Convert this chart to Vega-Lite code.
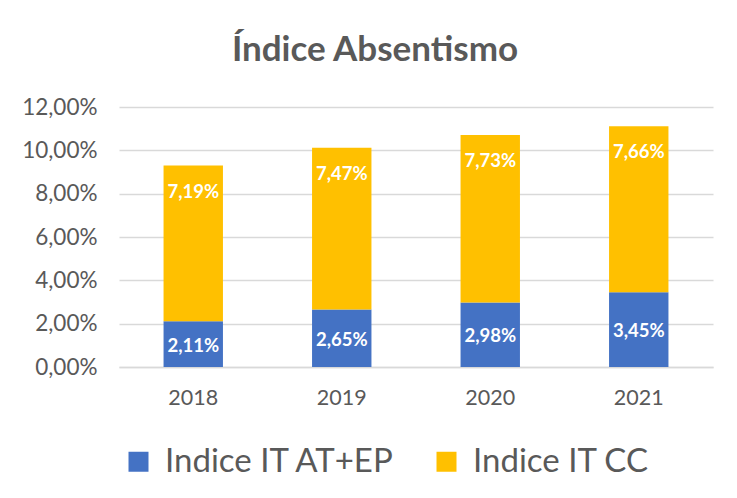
{
  "$schema": "https://vega.github.io/schema/vega-lite/v6.json",
  "width": 594,
  "height": 260,
  "autosize": {"type": "none"},
  "padding": {"left": 119, "top": 107, "right": 24, "bottom": 131},
  "config": {
    "font": "Lato",
    "locale": {"number": {"decimal": ",", "thousands": ".", "grouping": [3], "currency": ["", " €"]}},
    "view": {"stroke": null}
  },
  "title": {
    "text": "Índice Absentismo",
    "font": "Lato",
    "fontSize": 35,
    "fontWeight": "bold",
    "color": "#595959",
    "anchor": "middle",
    "frame": "group",
    "dx": -41,
    "offset": 28
  },
  "data": {
    "values": [
      {"year": "2018", "series": "Indice IT AT+EP", "value": 0.0211, "idx": 0},
      {"year": "2018", "series": "Indice IT CC", "value": 0.0719, "idx": 1},
      {"year": "2019", "series": "Indice IT AT+EP", "value": 0.0265, "idx": 0},
      {"year": "2019", "series": "Indice IT CC", "value": 0.0747, "idx": 1},
      {"year": "2020", "series": "Indice IT AT+EP", "value": 0.0298, "idx": 0},
      {"year": "2020", "series": "Indice IT CC", "value": 0.0773, "idx": 1},
      {"year": "2021", "series": "Indice IT AT+EP", "value": 0.0345, "idx": 0},
      {"year": "2021", "series": "Indice IT CC", "value": 0.0766, "idx": 1}
    ]
  },
  "resolve": {"scale": {"y": "independent"}},
  "layer": [
    {
      "mark": {"type": "bar"},
      "encoding": {
        "x": {
          "field": "year", "type": "nominal",
          "scale": {"paddingInner": 0.6, "paddingOuter": 0.3},
          "axis": {"title": null, "labelAngle": 0, "ticks": false, "domainColor": "#d9d9d9", "domainWidth": 1.5, "labelFontSize": 21.5, "labelColor": "#595959", "labelPadding": 20}
        },
        "y": {
          "field": "value", "type": "quantitative", "stack": "zero",
          "scale": {"domain": [0, 0.12]},
          "axis": {"title": null, "values": [0, 0.02, 0.04, 0.06, 0.08, 0.1, 0.12], "format": ".2%", "grid": true, "gridColor": "#d9d9d9", "gridWidth": 1.5, "domain": false, "ticks": false, "labelFontSize": 22.5, "labelColor": "#595959", "labelPadding": 22}
        },
        "color": {
          "field": "series", "type": "nominal",
          "scale": {"domain": ["Indice IT AT+EP", "Indice IT CC"], "range": ["#4472C4", "#FFC000"]},
          "legend": {"orient": "none", "legendX": 3, "legendY": 338, "direction": "horizontal", "title": null, "symbolType": "square", "symbolSize": 400, "symbolStrokeWidth": 0, "labelFontSize": 33, "labelLimit": 0, "labelColor": "#595959", "columnPadding": 35, "labelOffset": 10, "padding": 0}
        },
        "order": {"field": "idx", "type": "quantitative", "sort": "ascending"}
      }
    },
    {
      "transform": [
        {"stack": "value", "groupby": ["year"], "sort": [{"field": "idx", "order": "ascending"}], "as": ["v0", "v1"]},
        {"filter": "datum.series === 'Indice IT CC'"}
      ],
      "mark": {"type": "text", "color": "white", "fontWeight": "bold", "fontSize": 18.5, "baseline": "middle", "dy": 26},
      "encoding": {
        "x": {"field": "year", "type": "nominal"},
        "y": {"field": "v1", "type": "quantitative", "scale": {"domain": [0, 0.12]}, "axis": null},
        "text": {"field": "value", "type": "quantitative", "format": ".2%"}
      }
    },
    {
      "transform": [{"filter": "datum.series === 'Indice IT AT+EP'"}],
      "mark": {"type": "text", "color": "white", "fontWeight": "bold", "fontSize": 18.5, "baseline": "middle", "dy": 1.5},
      "encoding": {
        "x": {"field": "year", "type": "nominal"},
        "y": {"field": "value", "type": "quantitative", "stack": null, "scale": {"domain": [0, 0.24]}, "axis": null},
        "text": {"field": "value", "type": "quantitative", "format": ".2%"}
      }
    }
  ]
}
